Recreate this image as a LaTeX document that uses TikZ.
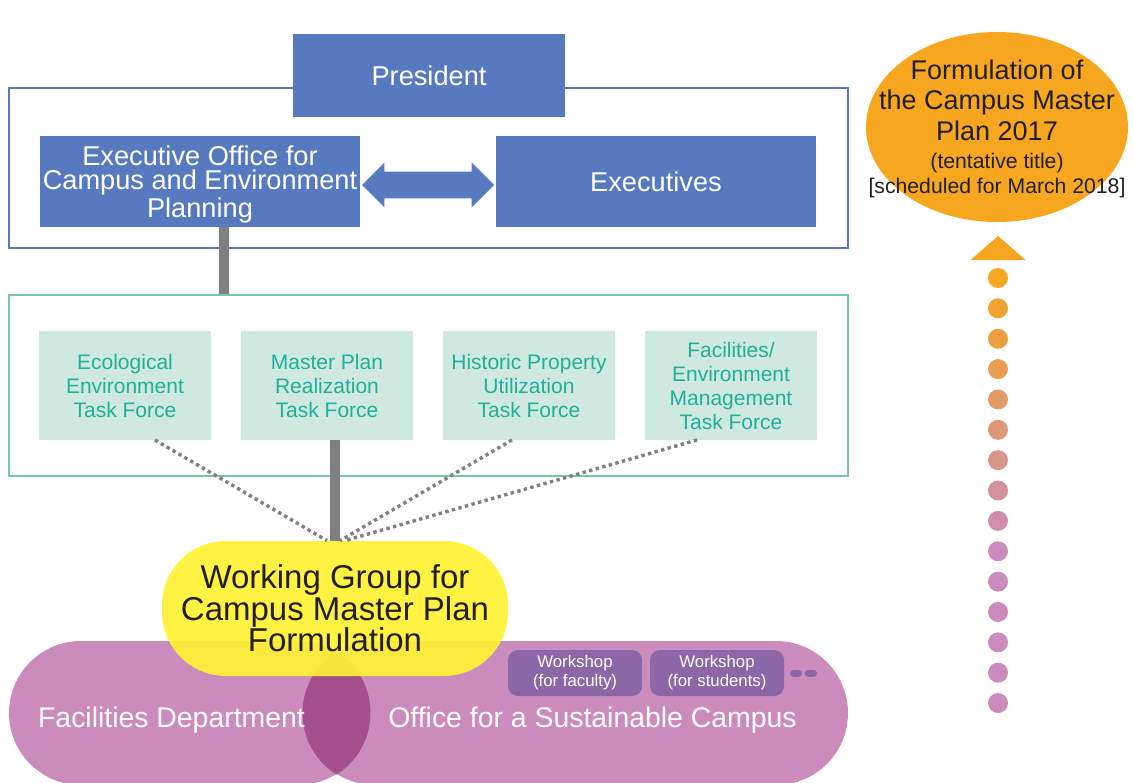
\documentclass[tikz,border=0pt]{standalone}
\usepackage{fontspec}
\setmainfont{Liberation Sans}
\usepackage{xcolor}
\usetikzlibrary{positioning,shapes.geometric,shapes.arrows}

\definecolor{presblue}{RGB}{86,121,191}
\definecolor{tealline}{RGB}{115,198,180}
\definecolor{mint}{RGB}{207,233,225}
\definecolor{tealtext}{RGB}{32,176,152}
\definecolor{trunkgray}{RGB}{128,128,131}
\definecolor{wgyellow}{RGB}{255,241,52}
\definecolor{deptpink}{RGB}{204,139,189}
\definecolor{lenspurple}{RGB}{164,80,140}
\definecolor{wspurple}{RGB}{140,103,167}
\definecolor{planorange}{RGB}{246,166,31}
\definecolor{inkdark}{RGB}{35,31,32}

\begin{document}
\begin{tikzpicture}[
    x=0.5pt, y=-0.5pt,
    node distance=15pt,
    font=\normalfont,
    groupframe/.style={
		rectangle,
		line width=1.3pt,
		fill=white,
		inner sep=0pt
	},
    bluebox/.style={
		rectangle,
		fill=presblue,
		text=white,
		align=center,
		inner sep=0pt,
		outer sep=0pt,
		minimum width=160pt,
		minimum height=45.5pt,
		font=\fontsize{13.6}{12.3}\selectfont
	},
	dblarrow/.style={
		double arrow,
		fill=presblue,
		inner xsep=0pt,
		inner ysep=6.5pt,
		outer sep=0pt,
		minimum width=22pt,
		minimum height=66pt,
		double arrow head extend=4.5pt,
		double arrow tip angle=90
	},
	taskforce/.style={
		rectangle,
		fill=mint,
		text=tealtext,
		align=center,
		inner sep=0pt,
		outer sep=0pt,
		minimum width=86pt,
		minimum height=54.5pt,
		font=\fontsize{10.5}{12}\selectfont
	},
	trunk/.style={
		draw=trunkgray,
		line width=5pt
	},
	dotlink/.style={
		draw=trunkgray,
		line width=1.7pt,
		dash pattern=on 1.7pt off 1.7pt
	},
	wgroup/.style={
		rectangle,
		rounded corners=32pt,
		fill=wgyellow,
		fill opacity=0.92,
		text opacity=1,
		text=inkdark,
		align=center,
		inner sep=0pt,
		minimum width=173pt,
		minimum height=67.5pt,
		font=\fontsize{16.5}{15.75}\selectfont
	},
	dept/.style={
		rectangle,
		rounded corners=36pt,
		fill=deptpink,
		inner sep=0pt,
		minimum height=72pt
	},
	deptlabel/.style={
		text=white,
		inner sep=0pt,
		font=\fontsize{14.2}{16}\selectfont
	},
	workshop/.style={
		rectangle,
		rounded corners=5pt,
		fill=wspurple,
		text=white,
		align=center,
		inner sep=0pt,
		outer sep=0pt,
		minimum width=67pt,
		minimum height=23pt,
		font=\fontsize{8.4}{9.5}\selectfont
	},
	plantext/.style={
		text=inkdark,
		align=center,
		inner sep=0pt,
		font=\fontsize{13.5}{15.25}\selectfont
	},
	stepdot/.style={
		circle,
		inner sep=0pt,
		outer sep=0pt,
		minimum size=10pt
	}
  ]

 \fill [white] (0,0) rectangle (1133,782);
 \useasboundingbox (0,0) rectangle (1133,782);

% // The executive level
 \node [groupframe, draw=presblue, minimum width=419.5pt, minimum height=80pt] (execframe) at (428.5,168) {};
 \node [bluebox, minimum width=136pt, minimum height=41.5pt] (president) at (429,75.5) {President};
 \node [bluebox, text depth=0pt] (execoffice) at (200,181.5) {Executive Office for\\Campus and Environment\\Planning};
 \node [bluebox, right=68pt of execoffice] (executives) {Executives};
 \node [dblarrow, right=1pt of execoffice, yshift=-1.75pt] (link) {};

% // The task forces
 \node [groupframe, draw=tealline, minimum width=419.5pt, minimum height=90.5pt] (tfframe) at (428.5,385.5) {};
 \node [taskforce] (tf1) at (125,385.5) {Ecological\\Environment\\Task Force};
 \node [taskforce, right=of tf1] (tf2) {Master Plan\\Realization\\Task Force};
 \node [taskforce, right=of tf2] (tf3) {Historic Property\\Utilization\\Task Force};
 \node [taskforce, right=of tf3] (tf4) {Facilities/\\Environment\\Management\\Task Force};

% // Departments and working group
 \node [dept, minimum width=180.5pt] (facdept) at (189.5,713) {};
 \node [dept, minimum width=272.5pt] (sustcampus) at (575.5,713) {};
 \begin{scope}
  \clip [rounded corners=36pt] (facdept.north west) rectangle (facdept.south east);
  \fill [lenspurple, rounded corners=36pt] (sustcampus.north west) rectangle (sustcampus.south east);
 \end{scope}
 \node [wgroup] (wg) at (335,608.5) {Working Group for\\Campus Master Plan\\Formulation};
 \node [deptlabel] (faclabel) at (171.5,720) {Facilities Department};
 \node [deptlabel] (sustlabel) at (592.5,720) {Office for a Sustainable Campus};
 \node [workshop] (ws1) at (575,673) {Workshop\\(for faculty)};
 \node [workshop, right=4pt of ws1] (ws2) {Workshop\\(for students)};
 \draw [draw=wspurple, line width=3.5pt, line cap=round, dash pattern=on 2.5pt off 5pt] ([xshift=4.75pt]ws2.east) -- ([xshift=14.75pt]ws2.east);

% // Connectors
 \draw [trunk] ([xshift=12pt]execoffice.south) -- ([xshift=12pt]execoffice.south |- tfframe.north);
 \draw [trunk] (tf2.south -| wg.north) -- (wg.north);
 \draw [dotlink] ([xshift=15pt]tf1.south) -- ([xshift=-4pt]wg.north);
 \draw [dotlink] ([xshift=-8.5pt]tf3.south) -- ([xshift=2.5pt]wg.north);
 \draw [dotlink] ([xshift=-17pt]tf4.south) -- ([xshift=5pt]wg.north);

% // The master plan
 \node [ellipse, fill=planorange, inner sep=0pt, minimum width=131pt, minimum height=95pt] (plan) at (997,127) {};
 \node [plantext, yshift=-1pt] (planlabel) at (plan.center)
 {Formulation of\\the Campus Master\\Plan 2017\\[-1pt]{\fontsize{10.6}{12.5}\selectfont (tentative title)}\\[-2.75pt]{\fontsize{10.6}{12.5}\selectfont [scheduled for March 2018]}};

 \coordinate (uptip) at (998,236);
 \fill [planorange] (uptip) -- ++(27.5,24) -- ++(-55,0) -- cycle;
 \node [stepdot, fill=planorange] (dot0) at (998,278) {};
 \node [stepdot, below=5.18pt of dot0, fill=deptpink!11!planorange] (dot1) {};
 \node [stepdot, below=5.18pt of dot1, fill=deptpink!22!planorange] (dot2) {};
 \node [stepdot, below=5.18pt of dot2, fill=deptpink!33!planorange] (dot3) {};
 \node [stepdot, below=5.18pt of dot3, fill=deptpink!44!planorange] (dot4) {};
 \node [stepdot, below=5.18pt of dot4, fill=deptpink!56!planorange] (dot5) {};
 \node [stepdot, below=5.18pt of dot5, fill=deptpink!67!planorange] (dot6) {};
 \node [stepdot, below=5.18pt of dot6, fill=deptpink!78!planorange] (dot7) {};
 \node [stepdot, below=5.18pt of dot7, fill=deptpink!89!planorange] (dot8) {};
 \node [stepdot, below=5.18pt of dot8, fill=deptpink] (dot9) {};
 \node [stepdot, below=5.18pt of dot9, fill=deptpink] (dot10) {};
 \node [stepdot, below=5.18pt of dot10, fill=deptpink] (dot11) {};
 \node [stepdot, below=5.18pt of dot11, fill=deptpink] (dot12) {};
 \node [stepdot, below=5.18pt of dot12, fill=deptpink] (dot13) {};
 \node [stepdot, below=5.18pt of dot13, fill=deptpink] (dot14) {};

\end{tikzpicture}
\end{document}
